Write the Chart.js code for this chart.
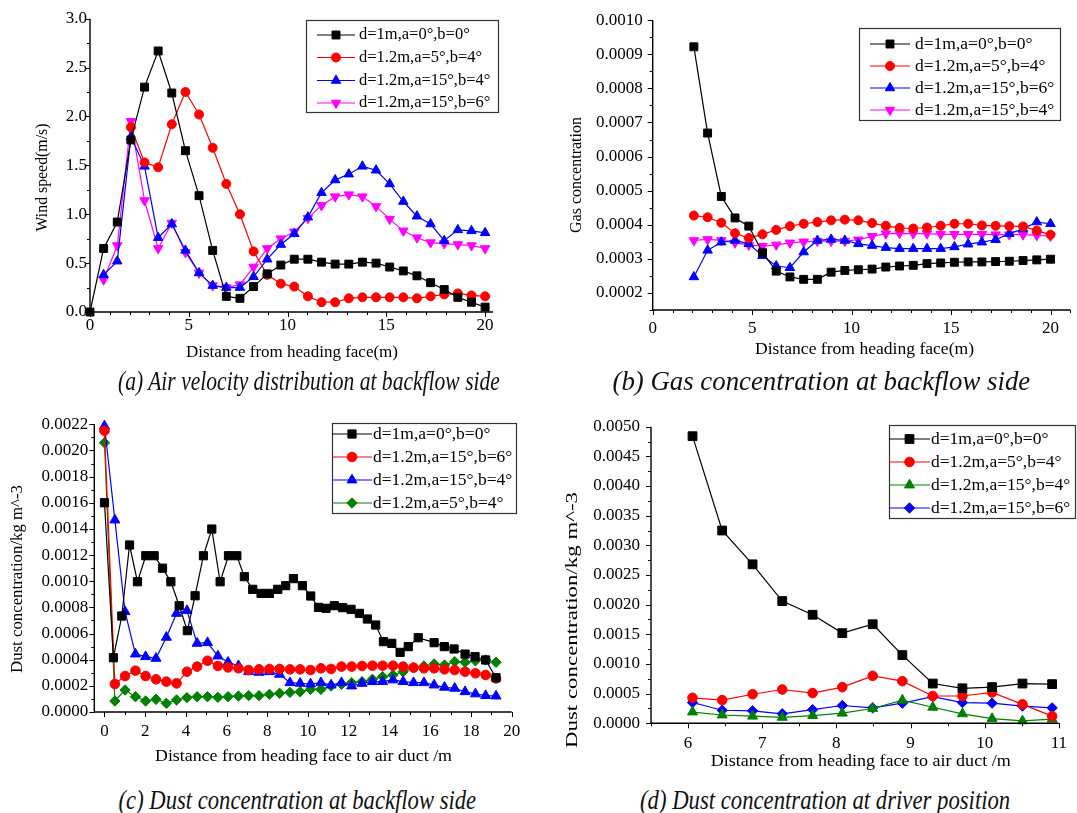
<!DOCTYPE html>
<html>
<head>
<meta charset="utf-8">
<script src="https://cdn.jsdelivr.net/npm/chart.js@4.4.1/dist/chart.umd.min.js"></script>
<style>
  body { margin: 0; background: #fff; width: 1077px; height: 813px; position: relative; overflow: hidden; }
  canvas { position: absolute; }
  .cap { position: absolute; font: italic 27px 'Liberation Serif', 'Times New Roman', serif; white-space: nowrap; color: #111; transform-origin: center center; }
</style>
</head>
<body>
<canvas id="pa" width="545" height="370" style="left:0;top:0"></canvas>
<canvas id="pb" width="532" height="370" style="left:545px;top:0"></canvas>
<canvas id="pc" width="545" height="370" style="left:0;top:405px"></canvas>
<canvas id="pd" width="532" height="370" style="left:545px;top:405px"></canvas>
<div class="cap" id="ca">(a) Air velocity distribution at backflow side</div>
<div class="cap" id="cb">(b) Gas concentration at backflow side</div>
<div class="cap" id="cc">(c) Dust concentration at backflow side</div>
<div class="cap" id="cd">(d) Dust concentration at driver position</div>
<script>
// ---- (a) wind speed, backflow side ----
const aX = [0, 0.69, 1.38, 2.07, 2.76, 3.45, 4.14, 4.83, 5.52, 6.21, 6.9, 7.59, 8.28, 8.97, 9.66,
  10.34, 11.03, 11.72, 12.41, 13.1, 13.79, 14.48, 15.17, 15.86, 16.55, 17.24, 17.93, 18.62, 19.31, 20];
const aBlack = [0, 0.65, 0.92, 1.76, 2.30, 2.67, 2.24, 1.65, 1.19, 0.63, 0.16, 0.14, 0.26, 0.39, 0.48,
  0.54, 0.54, 0.51, 0.49, 0.49, 0.51, 0.50, 0.46, 0.42, 0.37, 0.30, 0.23, 0.15, 0.10, 0.05];
const aRed = [null, null, null, 1.89, 1.53, 1.48, 1.92, 2.25, 2.02, 1.68, 1.31, 1.00, 0.62, 0.38, 0.29,
  0.26, 0.16, 0.10, 0.10, 0.14, 0.15, 0.15, 0.15, 0.15, 0.14, 0.16, 0.18, 0.19, 0.17, 0.16];
const aBlue = [null, 0.38, 0.52, 1.79, 1.49, 0.76, 0.90, 0.63, 0.40, 0.27, 0.25, 0.25, 0.36, 0.54, 0.69,
  0.80, 0.97, 1.22, 1.35, 1.41, 1.49, 1.45, 1.31, 1.13, 0.98, 0.90, 0.73, 0.84, 0.83, 0.81];
const aMagenta = [null, 0.33, 0.68, 1.95, 1.14, 0.65, 0.91, 0.61, 0.40, 0.27, 0.25, 0.28, 0.46, 0.65, 0.75,
  0.82, 0.96, 1.09, 1.18, 1.20, 1.18, 1.08, 0.95, 0.83, 0.76, 0.71, 0.70, 0.69, 0.68, 0.65];
const aXTicks = [0, 5, 10, 15, 20];
const aYTicks = [0, 0.5, 1.0, 1.5, 2.0, 2.5, 3.0];

// ---- (b) gas concentration, backflow side ----
const bX = [2.07, 2.76, 3.45, 4.14, 4.83, 5.52, 6.21, 6.9, 7.59, 8.28, 8.97, 9.66, 10.34, 11.03,
  11.72, 12.41, 13.1, 13.79, 14.48, 15.17, 15.86, 16.55, 17.24, 17.93, 18.62, 19.31, 20];
const bBlack = [0.000922, 0.000669, 0.000483, 0.000420, 0.000396, 0.000318, 0.000264, 0.000247, 0.000240,
  0.000240, 0.000261, 0.000266, 0.000268, 0.000270, 0.000276, 0.000279, 0.000281, 0.000286, 0.000288,
  0.000290, 0.000291, 0.000291, 0.000292, 0.000293, 0.000295, 0.000297, 0.000299];
const bRed = [0.000427, 0.000422, 0.000406, 0.000375, 0.000361, 0.000372, 0.000385, 0.000396, 0.000403,
  0.000408, 0.000413, 0.000415, 0.000413, 0.000405, 0.000397, 0.000391, 0.000389, 0.000392, 0.000397,
  0.000403, 0.000403, 0.000398, 0.000397, 0.000396, 0.000395, 0.000383, 0.000371];
const bBlue = [0.000247, 0.000325, 0.000349, 0.000354, 0.000344, 0.000309, 0.000279, 0.000274, 0.000320,
  0.000354, 0.000357, 0.000354, 0.000344, 0.000339, 0.000333, 0.000330, 0.000330, 0.000330, 0.000330,
  0.000335, 0.000343, 0.000349, 0.000356, 0.000374, 0.000388, 0.000408, 0.000403];
const bMagenta = [0.000354, 0.000357, 0.000354, 0.000347, 0.000341, 0.000337, 0.000341, 0.000347, 0.000350,
  0.000352, 0.000352, 0.000352, 0.000356, 0.000366, 0.000374, 0.000375, 0.000374, 0.000374, 0.000372,
  0.000372, 0.000372, 0.000372, 0.000371, 0.000371, 0.000371, 0.000369, 0.000367];
const bXTicks = [0, 5, 10, 15, 20];
const bYTicks = [0.0002, 0.0003, 0.0004, 0.0005, 0.0006, 0.0007, 0.0008, 0.0009, 0.0010];

// ---- (c) dust concentration, backflow side ----
const cBlackX = [0, 0.44, 0.85, 1.23, 1.62, 2.03, 2.44, 2.85, 3.26, 3.67, 4.07, 4.45, 4.86, 5.27, 5.68,
  6.09, 6.5, 6.87, 7.28, 7.69, 8.1, 8.51, 8.9, 9.28, 9.72, 10.13, 10.51, 10.88, 11.29, 11.7, 12.11,
  12.52, 12.91, 13.32, 13.7, 14.11, 14.52, 14.92, 15.41, 16.19, 16.69, 17.17, 17.71, 18.2, 18.72, 19.23];
const cBlack = [0.00160, 0.000415, 0.000734, 0.001277, 0.000996, 0.001195, 0.001195, 0.00110, 0.000996,
  0.000813, 0.000622, 0.000889, 0.001195, 0.001399, 0.000996, 0.001195, 0.001195, 0.001035, 0.000938,
  0.000907, 0.000907, 0.000938, 0.000966, 0.001020, 0.000966, 0.000887, 0.000800, 0.000793, 0.000813,
  0.000798, 0.000785, 0.000754, 0.000711, 0.000665, 0.000538, 0.000525, 0.000456, 0.000500, 0.000568,
  0.000530, 0.000500, 0.000482, 0.000443, 0.000423, 0.000398, 0.000262];
const cX = [0, 0.51, 1.01, 1.52, 2.02, 2.53, 3.04, 3.54, 4.05, 4.55, 5.06, 5.57, 6.07, 6.58, 7.08, 7.59,
  8.1, 8.6, 9.11, 9.61, 10.12, 10.63, 11.13, 11.64, 12.14, 12.65, 13.16, 13.66, 14.17, 14.67, 15.18,
  15.69, 16.19, 16.7, 17.2, 17.71, 18.22, 18.72, 19.23];
const cRed = [0.002151, 0.000214, 0.000275, 0.000316, 0.000275, 0.000250, 0.000232, 0.000219, 0.000308,
  0.000347, 0.000392, 0.000352, 0.000341, 0.000334, 0.000321, 0.000326, 0.000329, 0.000329, 0.000326,
  0.000326, 0.000321, 0.000334, 0.000329, 0.000347, 0.000347, 0.000352, 0.000354, 0.000354, 0.000354,
  0.000347, 0.000339, 0.000334, 0.000334, 0.000326, 0.000321, 0.000308, 0.000296, 0.000283, 0.000257];
const cBlue = [0.002187, 0.001468, 0.000767, 0.000443, 0.000423, 0.000410, 0.000571, 0.000754, 0.000775,
  0.000525, 0.000530, 0.000428, 0.000380, 0.000354, 0.000308, 0.000303, 0.000308, 0.000288, 0.000224,
  0.000219, 0.000214, 0.000224, 0.000206, 0.000224, 0.000199, 0.000219, 0.000232, 0.000232, 0.000245,
  0.000232, 0.000224, 0.000224, 0.000206, 0.000189, 0.000181, 0.000155, 0.000138, 0.000125, 0.000122];
const cGreen = [0.002059, 0.000084, 0.000168, 0.000117, 0.000084, 0.000097, 0.000066, 0.000092, 0.000110,
  0.000117, 0.000117, 0.000112, 0.000117, 0.000122, 0.000125, 0.000125, 0.000135, 0.000143, 0.000150,
  0.000155, 0.000173, 0.000173, 0.000199, 0.000212, 0.000224, 0.000232, 0.000250, 0.000270, 0.000283,
  0.000308, 0.000339, 0.000352, 0.000367, 0.000359, 0.000385, 0.000380, 0.000392, 0.000398, 0.000380];
const cXTicks = [0, 2, 4, 6, 8, 10, 12, 14, 16, 18, 20];
const cYTicks = [0, 0.0002, 0.0004, 0.0006, 0.0008, 0.0010, 0.0012, 0.0014, 0.0016, 0.0018, 0.0020, 0.0022];

// ---- (d) dust concentration, driver position ----
const dX = [6.06, 6.46, 6.87, 7.27, 7.68, 8.08, 8.49, 8.89, 9.3, 9.7, 10.1, 10.51, 10.91];
const dBlack = [0.00484, 0.00325, 0.00268, 0.00206, 0.00183, 0.00152, 0.00167, 0.00115, 0.00067, 0.00059, 0.00061, 0.00067, 0.00066];
const dRed = [0.00043, 0.00039, 0.00049, 0.00057, 0.00051, 0.00061, 0.00080, 0.00071, 0.00046, 0.00046, 0.00052, 0.00032, 0.00012];
const dGreen = [0.00019, 0.00014, 0.00012, 0.00010, 0.00013, 0.00017, 0.00025, 0.00039, 0.00027, 0.00016, 0.00008, 0.00004, 0.00007];
const dBlue = [0.00035, 0.00022, 0.00021, 0.00016, 0.00023, 0.00030, 0.00026, 0.00034, 0.00045, 0.00035, 0.00034, 0.00029, 0.00026];
const dXTicks = [6, 7, 8, 9, 10, 11];
const dYTicks = [0, 0.0005, 0.0010, 0.0015, 0.0020, 0.0025, 0.0030, 0.0035, 0.0040, 0.0045, 0.0050];

const SERIF = "'Liberation Serif', 'Times New Roman', serif";
const BLACK = '#000000', RED = '#ff0000', BLUE = '#0000ff', MAGENTA = '#ff00ff', GREEN = '#008000';

// one line series with Origin-like filled markers
function series(label, xs, ys, color, style, rot, r) {
  const pts = [];
  xs.forEach((x, i) => { if (ys[i] != null) pts.push({ x: x, y: ys[i] }); });
  return {
    label, data: pts, borderColor: color, backgroundColor: color,
    pointBackgroundColor: color, pointBorderColor: color, pointBorderWidth: 1,
    pointStyle: style, pointRotation: rot, pointRadius: r, pointHoverRadius: r,
    borderWidth: 1.2, tension: 0, clip: false
  };
}

// axis lines plus major/minor tick marks, drawn outward like Origin
const originAxes = {
  id: 'originAxes',
  afterDatasetsDraw(chart, args, o) {
    const { ctx, chartArea: a } = chart;
    const sx = chart.scales.x, sy = chart.scales.y;
    ctx.save();
    ctx.strokeStyle = '#000';
    ctx.lineWidth = 1.4;
    ctx.beginPath();
    ctx.moveTo(a.left, a.top);
    ctx.lineTo(a.left, a.bottom);
    ctx.lineTo(a.right, a.bottom);
    ctx.stroke();
    ctx.lineWidth = 1;
    const marks = (scale, step, len, horiz) => {
      const k0 = Math.ceil(scale.min / step - 1e-6), k1 = Math.floor(scale.max / step + 1e-6);
      ctx.beginPath();
      for (let k = k0; k <= k1; k++) {
        const p = Math.round(scale.getPixelForValue(k * step)) + 0.5;
        if (horiz) { ctx.moveTo(p, a.bottom); ctx.lineTo(p, a.bottom + len); }
        else { ctx.moveTo(a.left, p); ctx.lineTo(a.left - len, p); }
      }
      ctx.stroke();
    };
    marks(sx, o.xMinor, 3, true);
    marks(sx, o.xMajor, 5, true);
    marks(sy, o.yMinor, 3, false);
    marks(sy, o.yMajor, 5, false);
    ctx.restore();
  }
};

// axis titles, placed and stretched to the length they have in the figure
function stretchedText(ctx, text, cx, cy, len, font, rot) {
  ctx.save();
  ctx.font = font;
  const w = ctx.measureText(text).width;
  ctx.translate(cx, cy);
  ctx.rotate(rot);
  ctx.scale(len / w, 1);
  ctx.textAlign = 'center';
  ctx.textBaseline = 'middle';
  ctx.fillStyle = '#000';
  ctx.fillText(text, 0, 0);
  ctx.restore();
}

const axisTitles = {
  id: 'axisTitles',
  afterDraw(chart, args, o) {
    const ctx = chart.ctx;
    stretchedText(ctx, o.x.text, o.x.cx - o.ox, o.x.cy - o.oy, o.x.len, '17px ' + SERIF, 0);
    stretchedText(ctx, o.y.text, o.y.cx - o.ox, o.y.cy - o.oy, o.y.len, '16px ' + SERIF, -Math.PI / 2);
  }
};

// framed legend inside the plot
const boxLegend = {
  id: 'boxLegend',
  afterDraw(chart, args, o) {
    const ctx = chart.ctx;
    ctx.save();
    ctx.fillStyle = '#fff';
    ctx.fillRect(o.x, o.y, o.w, o.h);
    ctx.strokeStyle = '#333';
    ctx.lineWidth = 1.2;
    ctx.strokeRect(o.x + 0.5, o.y + 0.5, o.w, o.h);
    chart.data.datasets.forEach((ds, i) => {
      const yy = o.rows[i];
      ctx.strokeStyle = ds.borderColor;
      ctx.lineWidth = ds.borderWidth;
      ctx.beginPath();
      ctx.moveTo(o.x0, yy);
      ctx.lineTo(o.x1, yy);
      ctx.stroke();
      ctx.fillStyle = ds.pointBackgroundColor;
      ctx.lineWidth = 1;
      Chart.helpers.drawPoint(ctx, { pointStyle: ds.pointStyle, rotation: ds.pointRotation, radius: ds.pointRadius, borderWidth: 1 },
        (o.x0 + o.x1) / 2, yy);
      ctx.fillStyle = '#000';
      ctx.font = o.font;
      ctx.textBaseline = 'middle';
      ctx.fillText(ds.label, o.tx, yy);
    });
    ctx.restore();
  }
};

function panel(id, p) {
  const tickFont = { family: SERIF, size: 17 };
  return new Chart(document.getElementById(id), {
    type: 'line',
    data: { datasets: p.datasets },
    options: {
      responsive: false, animation: false, events: [], devicePixelRatio: 1,
      layout: { padding: p.pad },
      plugins: {
        legend: { display: false }, tooltip: { enabled: false },
        originAxes: p.ticks, boxLegend: p.legend, axisTitles: p.titles
      },
      scales: {
        x: {
          type: 'linear', min: p.xMin, max: p.xMax,
          afterFit: s => { s.height = p.xH; },
          afterBuildTicks: s => { s.ticks = p.xTicks.map(v => ({ value: v })); },
          grid: { display: false, drawTicks: false }, border: { display: false },
          ticks: { color: '#000', font: tickFont, padding: p.xPad, maxRotation: 0, autoSkip: false, callback: v => String(v) }
        },
        y: {
          type: 'linear', min: p.yMin, max: p.yMax,
          afterFit: s => { s.width = p.yW; },
          afterBuildTicks: s => { s.ticks = p.yTicks.map(v => ({ value: v })); },
          grid: { display: false, drawTicks: false }, border: { display: false },
          ticks: { color: '#000', font: tickFont, padding: p.yPad, autoSkip: false, callback: v => v.toFixed(p.yDec) }
        }
      }
    },
    plugins: [originAxes, boxLegend, axisTitles]
  });
}

const legendFontA = '16.5px ' + SERIF, legendFont = '17.5px ' + SERIF;
const xTitleA = 'Distance from heading face(m)', xTitleC = 'Distance from heading face to air duct /m';
const yTitleC = 'Dust concentration/kg m^-3';

panel('pa', {
  datasets: [
    series('d=1m,a=0°,b=0°', aX, aBlack, BLACK, 'rect', 0, 5.6),
    series('d=1.2m,a=5°,b=4°', aX, aRed, RED, 'circle', 0, 4.5),
    series('d=1.2m,a=15°,b=4°', aX, aBlue, BLUE, 'triangle', 0, 5.5),
    series('d=1.2m,a=15°,b=6°', aX, aMagenta, MAGENTA, 'triangle', 180, 5.5)
  ],
  pad: { top: 18.7, right: 52, bottom: 0, left: 0 },
  xMin: 0, xMax: 20.4, yMin: 0, yMax: 3, xTicks: aXTicks, yTicks: aYTicks, yDec: 1,
  xH: 58, yW: 90, xPad: 3, yPad: 3,
  titles: { ox: 0, oy: 0, x: { text: xTitleA, cx: 292, cy: 353, len: 212 }, y: { text: 'Wind speed(m/s)', cx: 43, cy: 177.5, len: 108 } },
  ticks: { xMajor: 5, xMinor: 1, yMajor: 0.5, yMinor: 0.25 },
  legend: { x: 306, y: 20, w: 192, h: 92, rows: [35, 57.5, 80.5, 103], x0: 317, x1: 355, tx: 359, font: legendFontA }
});

panel('pb', {
  datasets: [
    series('d=1m,a=0°,b=0°', bX, bBlack, BLACK, 'rect', 0, 5.6),
    series('d=1.2m,a=5°,b=4°', bX, bRed, RED, 'circle', 0, 4.5),
    series('d=1.2m,a=15°,b=6°', bX, bBlue, BLUE, 'triangle', 0, 5.5),
    series('d=1.2m,a=15°,b=4°', bX, bMagenta, MAGENTA, 'triangle', 180, 5.5)
  ],
  pad: { top: 19.1, right: 1, bottom: 0, left: 0 },
  xMin: 0, xMax: 21, yMin: 0.00015, yMax: 0.0010, xTicks: bXTicks, yTicks: bYTicks, yDec: 4,
  xH: 60, yW: 107.7, xPad: 8, yPad: 10,
  titles: { ox: 545, oy: 0, x: { text: xTitleA, cx: 864.5, cy: 350, len: 219 }, y: { text: 'Gas concentration', cx: 577, cy: 175, len: 116 } },
  ticks: { xMajor: 5, xMinor: 1, yMajor: 0.0001, yMinor: 0.00005 },
  legend: { x: 314, y: 28, w: 201, h: 92, rows: [44, 66, 88, 110], x0: 325, x1: 365, tx: 370, font: legendFont }
});

panel('pc', {
  datasets: [
    series('d=1m,a=0°,b=0°', cBlackX, cBlack, BLACK, 'rect', 0, 5.8),
    series('d=1.2m,a=15°,b=6°', cX, cRed, RED, 'circle', 0, 4.8),
    series('d=1.2m,a=15°,b=4°', cX, cBlue, BLUE, 'triangle', 0, 5.8),
    series('d=1.2m,a=5°,b=4°', cX, cGreen, GREEN, 'rectRot', 0, 5.2)
  ],
  pad: { top: 19.3, right: 33.3, bottom: 0, left: 0 },
  xMin: -0.5, xMax: 20, yMin: 0, yMax: 0.0022, xTicks: cXTicks, yTicks: cYTicks, yDec: 4,
  xH: 63, yW: 94.3, xPad: 9.5, yPad: 6,
  titles: { ox: 0, oy: 405, x: { text: xTitleC, cx: 303.5, cy: 757, len: 297 }, y: { text: yTitleC, cx: 18, cy: 579, len: 188 } },
  ticks: { xMajor: 2, xMinor: 1, yMajor: 0.0002, yMinor: 0.0001 },
  legend: { x: 332, y: 18, w: 184, h: 90, rows: [29, 52, 75, 98], x0: 332, x1: 372, tx: 373, font: legendFont }
});

panel('pd', {
  datasets: [
    series('d=1m,a=0°,b=0°', dX, dBlack, BLACK, 'rect', 0, 6.2),
    series('d=1.2m,a=5°,b=4°', dX, dRed, RED, 'circle', 0, 4.8),
    series('d=1.2m,a=15°,b=4°', dX, dGreen, GREEN, 'triangle', 0, 5.8),
    series('d=1.2m,a=15°,b=6°', dX, dBlue, BLUE, 'rectRot', 0, 5.2)
  ],
  pad: { top: 21.7, right: 8.7, bottom: 0, left: 0 },
  xMin: 5.5, xMax: 11, yMin: 0, yMax: 0.0050, xTicks: dXTicks, yTicks: dYTicks, yDec: 4,
  xH: 51.7, yW: 106, xPad: 10, yPad: 11,
  titles: { ox: 545, oy: 405, x: { text: xTitleC, cx: 860.7, cy: 762, len: 300 }, y: { text: yTitleC, cx: 573, cy: 620, len: 256 } },
  ticks: { xMajor: 1, xMinor: 0.5, yMajor: 0.0005, yMinor: 0.00025 },
  legend: { x: 344, y: 20, w: 186, h: 93, rows: [34, 57, 80, 103], x0: 344, x1: 385, tx: 386, font: legendFont }
});

// captions: centre each one and squeeze it to the width it has in the figure
[['ca', 309, 381, 382], ['cb', 821, 381, 418], ['cc', 297, 800, 358], ['cd', 825, 800, 370]].forEach(([id, cx, cy, w]) => {
  const el = document.getElementById(id);
  const nw = el.offsetWidth, nh = el.offsetHeight;
  el.style.left = (cx - nw / 2) + 'px';
  el.style.top = (cy - nh / 2) + 'px';
  el.style.transform = 'scaleX(' + (w / nw).toFixed(3) + ')';
});
</script>
</body>
</html>
